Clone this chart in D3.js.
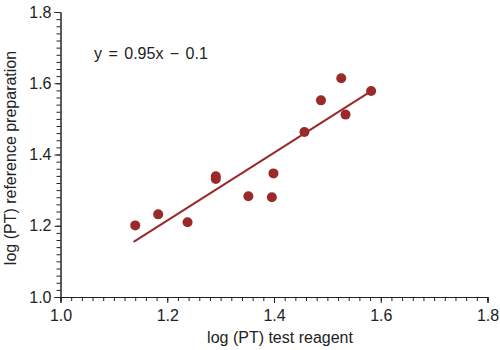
<!DOCTYPE html>
<html><head><meta charset="utf-8">
<script src="https://cdn.jsdelivr.net/npm/d3@7"></script>
<style>body{margin:0;background:#fff}svg{display:block}text{font-family:"Liberation Sans",Arial,sans-serif}</style>
</head><body>
<svg id="c" width="500" height="350"></svg>
<script>
const xValues = [1.140, 1.183, 1.238, 1.291, 1.291, 1.352, 1.396, 1.399, 1.457, 1.488, 1.526, 1.534, 1.582];
const yValues = [1.201, 1.232, 1.210, 1.339, 1.331, 1.283, 1.280, 1.347, 1.463, 1.552, 1.614, 1.512, 1.578];
const fitX = [1.137, 1.582];
const fitY = [1.155, 1.578];
const majorTicks = [1.0, 1.2, 1.4, 1.6, 1.8];
const equationLabel = "y = 0.95x \u2212 0.1";
const xTitle = "log (PT) test reagent";
const yTitle = "log (PT) reference preparation";

const color = "#9a2a2a";
const ink = "#222";
const svg = d3.select("#c");
const x = d3.scaleLinear().domain([1.0, 1.8]).range([60.5, 487.5]);
const y = d3.scaleLinear().domain([1.0, 1.8]).range([297, 12]);
const minor = d3.range(1.0, 1.8001, 0.02).map(v => +v.toFixed(2));

const xAxisMinor = d3.axisBottom(x).tickValues(minor).tickSize(4).tickFormat("");
const xAxis = d3.axisBottom(x).tickValues(majorTicks).tickSize(6).tickFormat(d3.format(".1f"));
const yAxisMinor = d3.axisLeft(y).tickValues(minor).tickSize(4).tickFormat("");
const yAxis = d3.axisLeft(y).tickValues(majorTicks).tickSize(6).tickFormat(d3.format(".1f"));

function style(g){
  g.select(".domain").attr("stroke",ink).attr("stroke-width",1);
  g.selectAll(".tick line").attr("stroke",ink).attr("stroke-width",1);
  g.selectAll(".tick text").attr("fill",ink).style("font-size","16px").style("font-family","'Liberation Sans',Arial,sans-serif");
}
svg.append("g").attr("transform","translate(0,297)").call(xAxisMinor).call(style);
svg.append("g").attr("transform","translate(0,297)").call(xAxis).call(style)
  .call(g=>g.selectAll(".tick text").attr("y",24).attr("dy",null));
svg.append("g").attr("transform","translate(60.5,0)").call(yAxisMinor).call(style);
svg.append("g").attr("transform","translate(60.5,0)").call(yAxis).call(style)
  .call(g=>g.selectAll(".tick text").attr("x",-9));

svg.append("line")
  .attr("x1", x(fitX[0])).attr("y1", y(fitY[0]))
  .attr("x2", x(fitX[1])).attr("y2", y(fitY[1]))
  .attr("stroke", color).attr("stroke-width", 2);

svg.append("g").selectAll("circle").data(xValues).join("circle")
  .attr("cx", (d,i) => x(d)).attr("cy", (d,i) => y(yValues[i]))
  .attr("r", 5).attr("fill", color);

svg.append("text").attr("x", 94).attr("y", 59).text(equationLabel)
  .style("font-size","16px").style("word-spacing","2px").attr("fill",ink);

svg.append("text").attr("x", 280).attr("y", 343).attr("text-anchor","middle")
  .text(xTitle).style("font-size","16px").attr("fill",ink);
svg.append("text").attr("transform","translate(16,158) rotate(-90)").attr("text-anchor","middle")
  .text(yTitle).style("font-size","16px").attr("fill",ink);
</script>
</body></html>
